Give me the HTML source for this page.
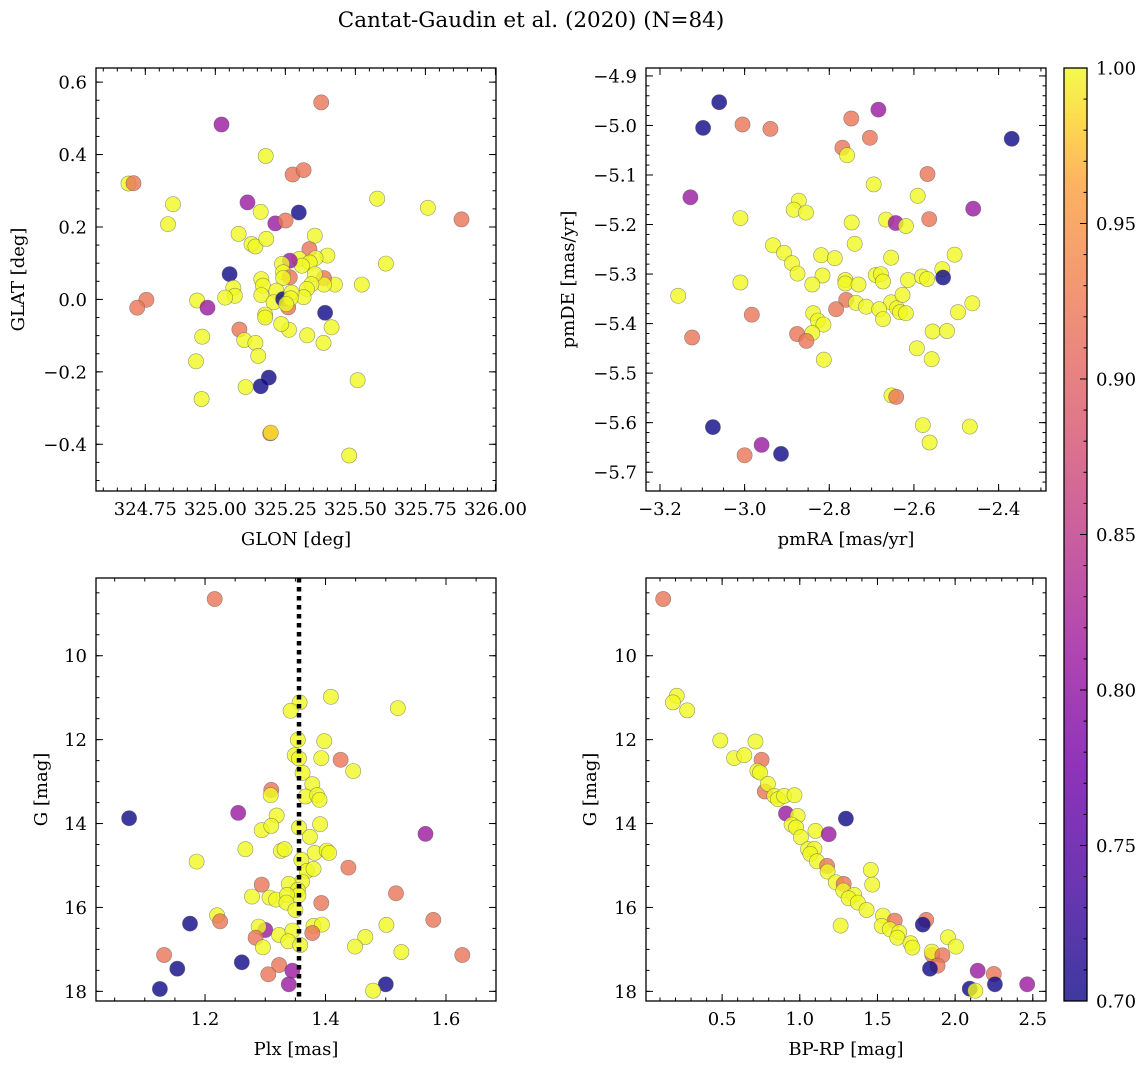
<!DOCTYPE html>
<html><head><meta charset="utf-8"><style>
html,body{margin:0;padding:0;background:#fff;}
svg{display:block;font-family:"DejaVu Serif","Liberation Serif",serif;}
</style></head><body>
<svg id="fig" width="1148" height="1068" xmlns="http://www.w3.org/2000/svg">
<defs>
<linearGradient id="cbgrad" x1="0" y1="1" x2="0" y2="0">
<stop offset="0" stop-color="#0d0887"/><stop offset="0.125" stop-color="#46039f"/><stop offset="0.25" stop-color="#7201a8"/><stop offset="0.375" stop-color="#9c179e"/><stop offset="0.5" stop-color="#bd3786"/><stop offset="0.625" stop-color="#d8576b"/><stop offset="0.75" stop-color="#ed7953"/><stop offset="0.875" stop-color="#fb9f3a"/><stop offset="0.94" stop-color="#fcce25"/><stop offset="1" stop-color="#f0f921"/>
</linearGradient>
</defs>
<text x="531" y="27" text-anchor="middle" font-size="21.5">Cantat-Gaudin et al. (2020) (N=84)</text>
</svg>
<script>
// Panel 1: GLON / GLAT
const p1_glon=[325.378,325.022,325.180,325.276,325.315,324.690,324.708,325.115,325.298,324.849,324.831,325.162,325.214,325.251,325.578,325.759,325.879,325.083,325.129,325.143,325.182,325.355,325.336,325.400,325.358,325.300,325.337,325.309,325.266,325.238,325.242,325.266,325.242,325.609,325.523,325.427,325.388,325.388,325.355,325.343,325.327,325.315,325.051,325.064,325.070,325.035,325.164,325.170,325.164,325.218,325.208,325.242,325.260,325.272,325.269,325.253,324.754,324.721,324.935,324.972,325.392,325.415,325.386,325.328,325.263,325.235,325.178,325.178,325.086,325.103,325.143,325.153,324.953,324.931,325.191,325.162,325.108,324.951,325.508,325.196,325.198,325.478];
const p1_glat=[0.544,0.483,0.396,0.345,0.357,0.320,0.321,0.268,0.240,0.263,0.208,0.242,0.210,0.218,0.278,0.253,0.221,0.181,0.153,0.146,0.167,0.176,0.139,0.121,0.114,0.112,0.102,0.093,0.107,0.098,0.075,0.061,0.059,0.099,0.041,0.041,0.059,0.041,0.070,0.042,0.029,0.006,0.070,0.032,0.010,0.005,0.056,0.038,0.012,0.024,-0.008,0.001,-0.022,0.019,0.003,-0.013,-0.001,-0.023,-0.003,-0.023,-0.037,-0.077,-0.120,-0.099,-0.084,-0.068,-0.042,-0.050,-0.083,-0.112,-0.120,-0.156,-0.103,-0.171,-0.216,-0.240,-0.242,-0.275,-0.223,-0.370,-0.368,-0.431];
const p1_prob=[0.92,0.81,1,0.92,0.92,1,0.92,0.81,0.7,1,1,1,0.81,0.92,1,1,0.92,1,1,1,1,1,0.92,1,1,1,1,1,0.81,1,1,0.92,1,1,1,1,0.92,1,1,1,1,1,0.7,1,1,1,1,1,1,1,1,0.7,0.92,1,1,1,0.92,0.92,1,0.81,0.7,1,1,1,1,1,1,1,0.92,1,1,1,1,1,0.7,0.7,1,1,1,0.92,0.99,1];
// Panel 2: pmRA / pmDE
const p2_pmra=[-3.060,-3.098,-3.005,-2.939,-2.684,-2.748,-2.704,-2.769,-2.758,-2.369,-2.568,-2.695,-3.128,-2.591,-2.460,-2.872,-2.884,-2.855,-3.010,-2.747,-2.666,-2.643,-2.619,-2.564,-2.933,-2.907,-2.740,-2.819,-2.787,-2.504,-2.654,-2.888,-2.875,-3.010,-2.816,-2.840,-2.762,-2.762,-2.731,-2.690,-2.678,-2.673,-2.614,-2.581,-2.569,-2.533,-2.531,-3.157,-2.760,-2.784,-2.737,-2.713,-2.654,-2.640,-2.627,-2.633,-2.619,-2.682,-2.673,-2.838,-2.827,-2.814,-2.840,-2.983,-3.124,-2.876,-2.854,-2.462,-2.496,-2.556,-2.522,-2.593,-2.558,-2.813,-2.653,-2.642,-2.579,-2.468,-2.563,-3.075,-2.960,-2.914,-3.000];
const p2_pmde=[-4.953,-5.005,-4.998,-5.007,-4.968,-4.986,-5.025,-5.045,-5.060,-5.027,-5.098,-5.119,-5.145,-5.142,-5.168,-5.152,-5.170,-5.176,-5.187,-5.196,-5.190,-5.197,-5.203,-5.189,-5.242,-5.257,-5.239,-5.262,-5.268,-5.261,-5.267,-5.278,-5.299,-5.317,-5.303,-5.321,-5.312,-5.319,-5.321,-5.302,-5.300,-5.315,-5.312,-5.305,-5.310,-5.290,-5.307,-5.344,-5.352,-5.371,-5.358,-5.366,-5.357,-5.369,-5.342,-5.377,-5.379,-5.371,-5.391,-5.379,-5.394,-5.402,-5.419,-5.382,-5.428,-5.421,-5.435,-5.359,-5.377,-5.416,-5.415,-5.450,-5.472,-5.473,-5.545,-5.548,-5.605,-5.608,-5.640,-5.609,-5.645,-5.663,-5.666];
const p2_prob=[0.7,0.7,0.92,0.92,0.81,0.92,0.92,0.92,1,0.7,0.92,1,0.81,1,0.81,1,1,1,1,1,1,0.81,1,0.92,1,1,1,1,1,1,1,1,1,1,1,1,1,1,1,1,1,1,1,1,1,1,0.7,1,0.92,0.92,1,1,1,1,1,1,1,1,1,1,1,1,1,0.92,0.92,0.92,0.92,1,1,1,1,1,1,1,1,0.92,1,1,1,0.7,0.81,0.7,0.92];
// Panel 3: Plx / G
const p3_plx=[1.216,1.409,1.357,1.342,1.520,1.354,1.398,1.349,1.356,1.393,1.425,1.446,1.362,1.378,1.310,1.309,1.367,1.386,1.390,1.255,1.074,1.319,1.294,1.310,1.356,1.391,1.374,1.566,1.267,1.326,1.332,1.382,1.402,1.406,1.186,1.360,1.369,1.380,1.438,1.361,1.339,1.294,1.354,1.355,1.278,1.307,1.318,1.336,1.335,1.517,1.393,1.350,1.220,1.225,1.579,1.175,1.501,1.380,1.394,1.378,1.300,1.289,1.284,1.323,1.345,1.338,1.358,1.296,1.466,1.449,1.526,1.627,1.132,1.261,1.323,1.154,1.345,1.305,1.339,1.125,1.500,1.479];
const p3_gmag=[8.648,10.978,11.113,11.312,11.249,12.004,12.036,12.370,12.449,12.441,12.481,12.751,12.791,13.062,13.197,13.324,13.356,13.324,13.435,13.746,13.873,13.809,14.159,14.056,14.095,14.016,14.318,14.247,14.612,14.652,14.612,14.700,14.644,14.700,14.907,14.867,15.129,15.082,15.050,15.384,15.439,15.455,15.582,15.710,15.741,15.765,15.813,15.702,15.885,15.662,15.893,16.060,16.187,16.330,16.298,16.386,16.417,16.441,16.409,16.608,16.537,16.457,16.720,16.656,16.553,16.807,16.895,16.950,16.704,16.934,17.062,17.133,17.133,17.308,17.372,17.459,17.507,17.594,17.833,17.944,17.833,17.984];
const p3_prob=[0.92,1,1,1,1,1,1,1,1,1,0.92,1,1,1,0.92,1,1,1,1,0.81,0.7,1,1,1,1,1,1,0.81,1,1,1,1,1,1,1,1,1,1,0.92,1,1,0.92,1,1,1,1,1,1,1,0.92,0.92,1,1,0.92,0.92,0.7,1,1,1,0.92,0.81,1,0.92,1,1,1,1,1,1,1,1,0.92,0.92,0.7,0.92,0.7,0.81,0.92,0.81,0.7,0.7,1];
const p3_plx_ref=[1.356];
// Panel 4: BP-RP / G
const p4_bprp=[0.121,0.208,0.183,0.275,0.488,0.715,0.577,0.643,0.754,0.727,0.744,0.775,0.795,0.836,0.860,0.899,0.966,0.911,0.986,1.297,0.947,0.976,1.101,1.186,1.007,1.053,1.094,1.068,1.111,1.176,1.179,1.457,1.466,1.232,1.283,1.280,1.350,1.314,1.374,1.430,1.536,1.611,1.263,1.527,1.580,1.640,1.628,1.814,1.792,1.713,1.725,1.954,2.005,1.853,1.850,1.918,1.887,1.838,2.145,2.249,2.256,2.464,2.094,2.130];
const p4_gmag=[8.648,10.954,11.113,11.304,12.020,12.044,12.441,12.370,12.481,12.743,12.783,13.237,13.054,13.340,13.419,13.340,13.324,13.761,13.817,13.881,14.024,14.095,14.175,14.254,14.326,14.612,14.604,14.723,14.899,15.010,15.145,15.105,15.455,15.400,15.439,15.598,15.702,15.781,15.885,16.060,16.195,16.314,16.433,16.441,16.521,16.592,16.720,16.298,16.409,16.855,16.958,16.712,16.934,17.133,17.054,17.141,17.388,17.459,17.507,17.587,17.833,17.833,17.936,17.984];
const p4_prob=[0.92,1,1,1,1,1,1,1,0.92,1,1,0.92,1,1,1,1,1,0.81,1,0.7,1,1,1,0.81,1,1,1,1,1,0.92,1,1,1,1,0.92,1,1,1,1,1,1,0.92,1,1,1,1,1,0.92,0.7,1,1,1,1,0.92,1,0.92,0.92,0.7,0.81,0.92,0.7,0.81,0.7,1];
const cb_ticks=[0.70,0.75,0.80,0.85,0.90,0.95,1.00];
const cb_range=[0.70,1.00];

const NS="http://www.w3.org/2000/svg";
const svg=document.getElementById('fig');
const FS=18;
const stops=[[0,[13,8,135]],[0.125,[70,3,159]],[0.25,[114,1,168]],[0.375,[156,23,158]],[0.5,[189,55,134]],[0.625,[216,87,107]],[0.75,[237,121,83]],[0.875,[251,159,58]],[0.94,[252,206,37]],[1,[240,249,33]]];
function plasma(t){t=Math.max(0,Math.min(1,t));for(let i=1;i<stops.length;i++){if(t<=stops[i][0]){const a=stops[i-1],b=stops[i];const f=(t-a[0])/(b[0]-a[0]);const c=a[1].map((v,k)=>Math.round(v+(b[1][k]-v)*f));return `rgb(${c[0]},${c[1]},${c[2]})`;}}return 'rgb(240,249,33)';}
function mk(tag,attrs,parent){const e=document.createElementNS(NS,tag);for(const k in attrs)e.setAttribute(k,attrs[k]);(parent||svg).appendChild(e);return e;}
function fmtNum(v,d){const s=Math.abs(v).toFixed(d);return (v<-1e-9?'\u2212':'')+s;}

function panel(o){
  const g=mk('g',{});
  
  
  const L=o.box[0],T=o.box[1],R=o.box[2],B=o.box[3];
  const sx=v=>L+(v-o.xlim[0])/(o.xlim[1]-o.xlim[0])*(R-L);
  const sy=v=>B-(v-o.ylim[0])/(o.ylim[1]-o.ylim[0])*(B-T);
  const pg=mk('g',{},g);
  
  
  for(let i=0;i<o.xs.length;i++){
    const c=mk('circle',{cx:sx(o.xs[i]).toFixed(1),cy:sy(o.ys[i]).toFixed(1),r:7.6,fill:plasma((o.ps[i]-cb_range[0])/(cb_range[1]-cb_range[0])),'fill-opacity':0.8,stroke:'#555','stroke-opacity':0.6,'stroke-width':0.6},pg);
    
    
  }
  if(o.vline){
    const ln=mk('line',{x1:sx(o.vline[0]),x2:sx(o.vline[0]),y1:T,y2:B,stroke:'#000','stroke-width':4.5,'stroke-dasharray':'4.5 4.5'},g);
    
    
  }
  const fr=mk('rect',{x:L,y:T,width:R-L,height:B-T,fill:'none',stroke:'#000','stroke-width':1.3},g);
  
  
  const tg=mk('g',{stroke:'#000','stroke-width':1},g);
  const inX=v=>v>=Math.min(...o.xlim)-1e-9&&v<=Math.max(...o.xlim)+1e-9;
  const inY=v=>v>=Math.min(...o.ylim)-1e-9&&v<=Math.max(...o.ylim)+1e-9;
  for(let v=Math.ceil(o.xlim[0]/o.xmin)*o.xmin;v<=o.xlim[1];v+=o.xmin){const x=sx(v);mk('line',{x1:x,x2:x,y1:B,y2:B-3.5},tg);mk('line',{x1:x,x2:x,y1:T,y2:T+3.5},tg);}
  const ylo=Math.min(...o.ylim),yhi=Math.max(...o.ylim);
  for(let v=Math.ceil(ylo/o.ymin)*o.ymin;v<=yhi;v+=o.ymin){const y=sy(v);mk('line',{x1:L,x2:L+3.5,y1:y,y2:y},tg);mk('line',{x1:R,x2:R-3.5,y1:y,y2:y},tg);}
  for(const v of o.xt){if(!inX(v))continue;const x=sx(v);mk('line',{x1:x,x2:x,y1:B,y2:B-7},tg);mk('line',{x1:x,x2:x,y1:T,y2:T+7},tg);
    const t=mk('text',{x:x,y:B+24,'text-anchor':'middle','font-size':FS},g);t.textContent=fmtNum(v,o.xd);
    
    }
  for(const v of o.yt){if(!inY(v))continue;const y=sy(v);mk('line',{x1:L,x2:L+7,y1:y,y2:y},tg);mk('line',{x1:R,x2:R-7,y1:y,y2:y},tg);
    const t=mk('text',{x:L-9,y:y+6.5,'text-anchor':'end','font-size':FS},g);t.textContent=fmtNum(v,o.yd);
    
    }
  const xl=mk('text',{x:(L+R)/2,y:B+54,'text-anchor':'middle','font-size':FS},g);xl.textContent=o.xlabel;
  
  
  const yx=o.ylabx,yy=(T+B)/2;
  const yl=mk('text',{x:yx,y:yy,'text-anchor':'middle','font-size':FS,transform:`rotate(-90 ${yx} ${yy})`},g);yl.textContent=o.ylabel;
  
  
}
panel({name:'glon-glat-panel',box:[96,68,496,491],xlim:[324.574,326.002],ylim:[-0.529,0.639],xs:p1_glon,ys:p1_glat,ps:p1_prob,xt:[324.75,325.00,325.25,325.50,325.75,326.00],yt:[-0.4,-0.2,0.0,0.2,0.4,0.6],xmin:0.05,ymin:0.05,xd:2,yd:1,xlabel:'GLON [deg]',ylabel:'GLAT [deg]',ylabx:24});
panel({name:'proper-motion-panel',box:[646,68,1046,491],xlim:[-3.233,-2.288],ylim:[-5.738,-4.884],xs:p2_pmra,ys:p2_pmde,ps:p2_prob,xt:[-3.2,-3.0,-2.8,-2.6,-2.4],yt:[-5.7,-5.6,-5.5,-5.4,-5.3,-5.2,-5.1,-5.0,-4.9],xmin:0.05,ymin:0.02,xd:1,yd:1,xlabel:'pmRA [mas/yr]',ylabel:'pmDE [mas/yr]',ylabx:574});
panel({name:'parallax-magnitude-panel',box:[96,578,496,1001],xlim:[1.019,1.683],ylim:[18.23,8.147],xs:p3_plx,ys:p3_gmag,ps:p3_prob,xt:[1.2,1.4,1.6],yt:[10,12,14,16,18],xmin:0.05,ymin:0.5,xd:1,yd:0,xlabel:'Plx [mas]',ylabel:'G [mag]',ylabx:47,vline:p3_plx_ref});
panel({name:'cmd-panel',box:[646,578,1046,1001],xlim:[0.010,2.585],ylim:[18.23,8.147],xs:p4_bprp,ys:p4_gmag,ps:p4_prob,xt:[0.5,1.0,1.5,2.0,2.5],yt:[10,12,14,16,18],xmin:0.1,ymin:0.5,xd:1,yd:0,xlabel:'BP-RP [mag]',ylabel:'G [mag]',ylabx:596});

const cbT=68,cbB=1001,cbL=1064,cbR=1087;
const cg=mk('g',{});


mk('rect',{x:cbL,y:cbT,width:cbR-cbL,height:cbB-cbT,fill:'url(#cbgrad)','fill-opacity':0.8},cg);
mk('rect',{x:cbL,y:cbT,width:cbR-cbL,height:cbB-cbT,fill:'none',stroke:'#000','stroke-width':1.3},cg);
const cy=v=>cbB-(v-cb_range[0])/(cb_range[1]-cb_range[0])*(cbB-cbT);
for(let v=cb_range[0];v<=cb_range[1]+1e-9;v+=0.01){mk('line',{x1:cbR,x2:cbR-3.5,y1:cy(v),y2:cy(v),stroke:'#000'},cg);}
for(const v of cb_ticks){mk('line',{x1:cbR,x2:cbR-7,y1:cy(v),y2:cy(v),stroke:'#000'},cg);
  const t=mk('text',{x:1096,y:cy(v)+6.5,'font-size':FS},cg);t.textContent=v.toFixed(2);
  
  }
</script>
</body></html>
